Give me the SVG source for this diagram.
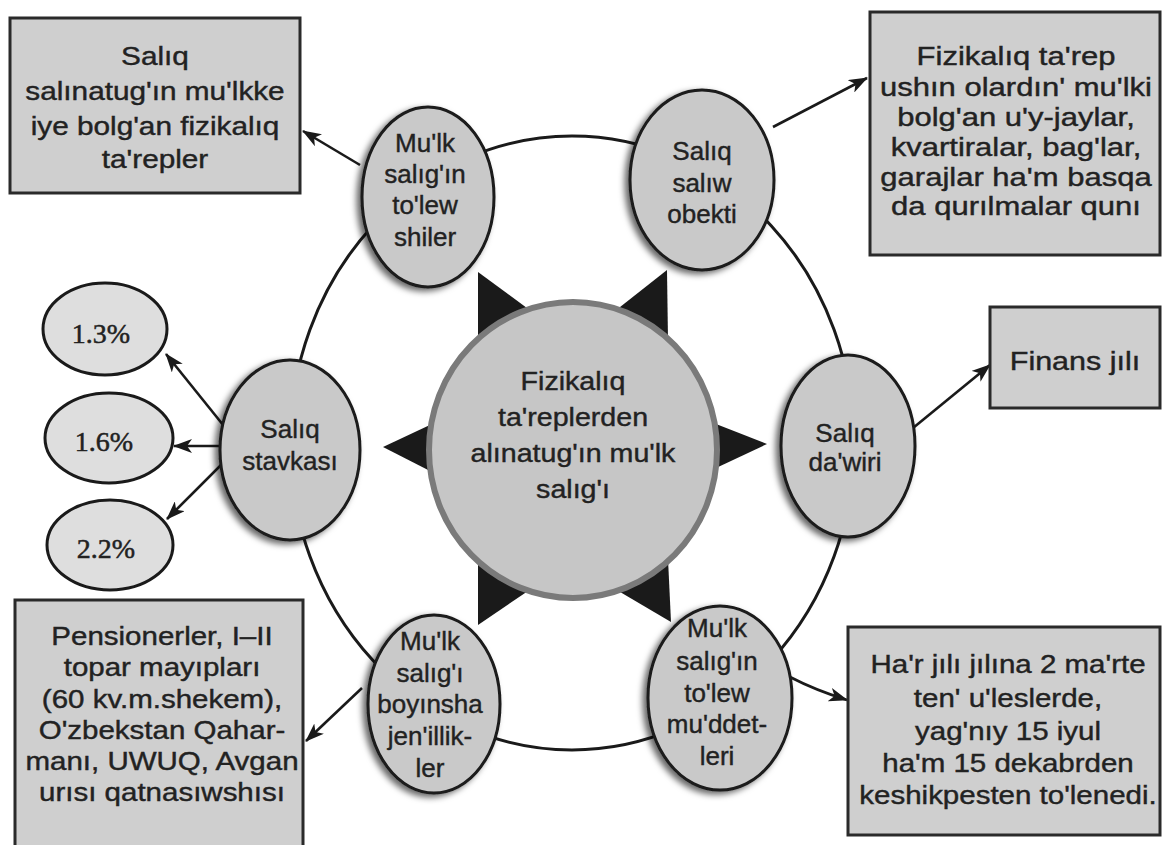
<svg xmlns="http://www.w3.org/2000/svg" width="1163" height="845" viewBox="0 0 1163 845">
<style>
.box{fill:#cfcfcf;stroke:#2a2a2a;stroke-width:3}
.oval{fill:#c9c9c9;stroke:#1a1a1a;stroke-width:3;filter:url(#sh)}
.pov{fill:#dedede;stroke:#1a1a1a;stroke-width:3}
.t{font-family:"Liberation Sans",Arial,sans-serif;font-size:25px;fill:#222;stroke:#222;stroke-width:0.4;text-anchor:middle}
.ot{font-family:"Liberation Sans",Arial,sans-serif;font-size:26px;fill:#222;stroke:#222;stroke-width:0.4;text-anchor:middle}
.pt{font-family:"Liberation Serif","Times New Roman",serif;font-size:28px;fill:#222;stroke:#222;stroke-width:0.5;text-anchor:middle}
.ln{fill:none;stroke:#1a1a1a;stroke-width:2.6}
.ring{fill:none;stroke:#1a1a1a;stroke-width:3}
.star{fill:#1a1a1a}
</style>
<defs>
<marker id="ah" markerUnits="userSpaceOnUse" markerWidth="19" markerHeight="14" refX="18" refY="7" orient="auto">
<path d="M0,0 L19,7 L0,14 L5,7 z" fill="#1a1a1a"/>
</marker>
<filter id="sh" x="-20%" y="-20%" width="140%" height="140%">
<feDropShadow dx="-4" dy="3" stdDeviation="3" flood-color="#000" flood-opacity="0.6"/>
</filter>
</defs>
<rect width="1163" height="845" fill="#ffffff"/>

<g id="connectors">
<ellipse class="ring" cx="572" cy="443" rx="282" ry="307"/>
<line class="ln" x1="360" y1="165" x2="303" y2="131" marker-end="url(#ah)"/>
<line class="ln" x1="773" y1="127" x2="867" y2="78" marker-end="url(#ah)"/>
<line class="ln" x1="913" y1="428" x2="990" y2="365" marker-end="url(#ah)"/>
<path class="ln" d="M790,677 Q815,690 847,700" marker-end="url(#ah)"/>
<line class="ln" x1="362" y1="688" x2="306" y2="741" marker-end="url(#ah)"/>
<line class="ln" x1="240" y1="446" x2="166" y2="354" marker-end="url(#ah)"/>
<line class="ln" x1="240" y1="446" x2="174" y2="446" marker-end="url(#ah)"/>
<line class="ln" x1="240" y1="446" x2="167" y2="519" marker-end="url(#ah)"/>
</g>

<g id="center">
<polygon class="star" points="383,447 432,424 432,472"/>
<polygon class="star" points="767,444 716,424 716,468"/>
<polygon class="star" points="478,272 478,341 531,311"/>
<polygon class="star" points="667,270 668,341 615,311"/>
<polygon class="star" points="478,625 478,559 531,589"/>
<polygon class="star" points="671,622 668,559 615,589"/>
<ellipse cx="573" cy="450" rx="144" ry="148" fill="#c6c6c6" stroke="#7a7a7a" stroke-width="6"/>
<text class="ot" font-size="27" transform="translate(573,390) scale(1.1,1)"><tspan x="0">Fizikalıq</tspan><tspan x="0" dy="36">ta'replerden</tspan><tspan x="0" dy="36">alınatug'ın mu'lk</tspan><tspan x="0" dy="36">salıg'ı</tspan></text>
</g>

<g id="oval-toleushiler">
<ellipse class="oval" cx="428" cy="197" rx="66" ry="90"/>
<text class="ot"><tspan x="425" y="152">Mu'lk</tspan><tspan x="425" y="183">salıg'ın</tspan><tspan x="425" y="214">to'lew</tspan><tspan x="425" y="246">shiler</tspan></text>
</g>

<g id="oval-obekti">
<ellipse class="oval" cx="702" cy="180" rx="72" ry="90"/>
<text class="ot"><tspan x="702" y="160">Salıq</tspan><tspan x="702" y="192">salıw</tspan><tspan x="702" y="223">obekti</tspan></text>
</g>

<g id="oval-stavkasi">
<ellipse class="oval" cx="290" cy="450" rx="70" ry="90"/>
<text class="ot"><tspan x="290" y="438">Salıq</tspan><tspan x="290" y="470">stavkası</tspan></text>
</g>

<g id="oval-dawiri">
<ellipse class="oval" cx="848" cy="446" rx="67" ry="91"/>
<text class="ot"><tspan x="845" y="442">Salıq</tspan><tspan x="845" y="471">da'wiri</tspan></text>
</g>

<g id="oval-jenillikler">
<ellipse class="oval" cx="434" cy="704" rx="66" ry="89"/>
<text class="ot"><tspan x="430" y="650">Mu'lk</tspan><tspan x="430" y="682">salıg'ı</tspan><tspan x="430" y="713">boyınsha</tspan><tspan x="430" y="745">jen'illik-</tspan><tspan x="430" y="777">ler</tspan></text>
</g>

<g id="oval-muddetleri">
<ellipse class="oval" cx="720" cy="698" rx="72" ry="92"/>
<text class="ot"><tspan x="717" y="637">Mu'lk</tspan><tspan x="717" y="670">salıg'ın</tspan><tspan x="717" y="702">to'lew</tspan><tspan x="717" y="733">mu'ddet-</tspan><tspan x="717" y="765">leri</tspan></text>
</g>

<g id="p13">
<ellipse class="pov" cx="105" cy="329" rx="62" ry="46"/>
<text class="pt" x="101" y="343">1.3%</text>
</g>
<g id="p16">
<ellipse class="pov" cx="109" cy="438" rx="64" ry="45"/>
<text class="pt" x="104" y="451">1.6%</text>
</g>
<g id="p22">
<ellipse class="pov" cx="110" cy="545" rx="63" ry="45"/>
<text class="pt" x="106" y="558">2.2%</text>
</g>

<g id="box-ta-repler">
<rect class="box" x="10" y="18" width="290" height="175"/>
<text class="t" transform="translate(155,65) scale(1.19,1)"><tspan x="0">Salıq</tspan><tspan x="0" dy="35">salınatug'ın mu'lkke</tspan><tspan x="0" dy="35">iye bolg'an fizikalıq</tspan><tspan x="0" dy="33">ta'repler</tspan></text>
</g>

<g id="box-obekt">
<rect class="box" x="870" y="12" width="290" height="243"/>
<text class="t" transform="translate(1016,65) scale(1.24,1)"><tspan x="0">Fizikalıq ta'rep</tspan><tspan x="0" dy="31">ushın olardın' mu'lki</tspan><tspan x="0" dy="30">bolg'an u'y-jaylar,</tspan><tspan x="0" dy="30">kvartiralar, bag'lar,</tspan><tspan x="0" dy="30">garajlar ha'm basqa</tspan><tspan x="0" dy="29">da qurılmalar qunı</tspan></text>
</g>

<g id="box-finans">
<rect class="box" x="990" y="307" width="170" height="101"/>
<text class="t" transform="translate(1075,370) scale(1.22,1)" x="0">Finans jılı</text>
</g>

<g id="box-muddet">
<rect class="box" x="848" y="627" width="312" height="208"/>
<text class="t" transform="translate(1008,673) scale(1.18,1)"><tspan x="0">Ha'r jılı jılına 2 ma'rte</tspan><tspan x="0" dy="34">ten' u'leslerde,</tspan><tspan x="0" dy="33">yag'nıy 15 iyul</tspan><tspan x="0" dy="32">ha'm 15 dekabrden</tspan><tspan x="0" dy="32">keshikpesten to'lenedi.</tspan></text>
</g>

<g id="box-jenillik">
<rect class="box" x="15" y="600" width="288" height="250"/>
<text class="t" transform="translate(162,645) scale(1.18,1)"><tspan x="0">Pensionerler, I–II</tspan><tspan x="0" dy="31">topar mayıpları</tspan><tspan x="0" dy="32">(60 kv.m.shekem),</tspan><tspan x="0" dy="31">O'zbekstan Qahar-</tspan><tspan x="0" dy="31">manı, UWUQ, Avgan</tspan><tspan x="0" dy="31">urısı qatnasıwshısı</tspan></text>
</g>
</svg>
